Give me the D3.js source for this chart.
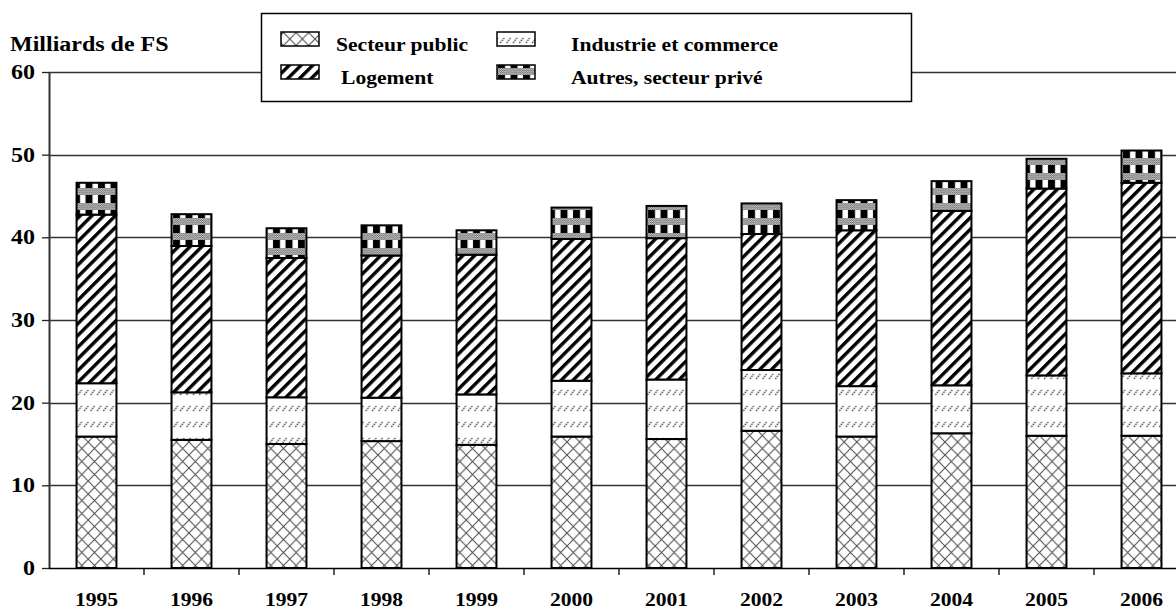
<!DOCTYPE html>
<html>
<head>
<meta charset="utf-8">
<script src="https://cdn.jsdelivr.net/npm/d3@7/dist/d3.min.js"></script>
<style>
  html, body { margin: 0; padding: 0; background: #fff; }
  svg { display: block; }
  text { font-family: "Liberation Serif", "Times New Roman", serif; font-weight: bold; fill: #000; }
</style>
</head>
<body>
<svg id="chart" width="1176" height="610"></svg>
<script>
// Investissements dans la construction, milliards de francs suisses
const years = ["1995","1996","1997","1998","1999","2000","2001","2002","2003","2004","2005","2006"];
const secteurPublic = [15.9, 15.5, 15.0, 15.35, 14.9, 15.9, 15.6, 16.6, 15.9, 16.3, 16.0, 16.0];
const industrieCommerce = [6.45, 5.75, 5.65, 5.25, 6.1, 6.75, 7.2, 7.35, 6.1, 5.8, 7.3, 7.55];
const logement = [20.4, 17.7, 16.85, 17.2, 16.9, 17.15, 17.1, 16.45, 18.85, 21.1, 22.6, 23.05];
const autresPrive = [3.85, 3.85, 3.6, 3.65, 2.95, 3.8, 3.9, 3.7, 3.65, 3.6, 3.6, 3.9];
const yTicks = [0, 10, 20, 30, 40, 50, 60];
const seriesNames = ["Secteur public", "Industrie et commerce", "Logement", "Autres, secteur privé"];
const unitLabel = "Milliards de FS";

const svg = d3.select("#chart");
const SX = 1.2;   // horizontal text stretch
const FS = 18;    // legend and year labels
const FS_Y = 20;  // value axis labels and unit

const plot = { left: 49, right: 1189, top: 72, bottom: 568 };

const x = d3.scaleBand().domain(years).range([plot.left, plot.right])
  .paddingInner(0.58).paddingOuter(0.29);
const xCat = d3.scaleBand().domain(years).range([plot.left, plot.right]).padding(0);
const y = d3.scaleLinear().domain([0, 60]).range([plot.bottom, plot.top]);

// ---- fill patterns ----
const defs = svg.append("defs");

// Secteur public: diagonal cross-hatch
const pPub = defs.append("pattern").attr("id", "pat-pub")
  .attr("patternUnits", "userSpaceOnUse").attr("width", 12.6).attr("height", 13);
pPub.append("rect").attr("width", 12.6).attr("height", 13).attr("fill", "#fff");
pPub.append("path").attr("d", "M0,0 L12.6,13 M12.6,0 L0,13")
  .attr("stroke", "#555").attr("stroke-width", 1.1).attr("fill", "none");

// Industrie et commerce: rows of short dotted slashes
const pInd = defs.append("pattern").attr("id", "pat-ind")
  .attr("patternUnits", "userSpaceOnUse").attr("width", 6.4).attr("height", 16);
pInd.append("rect").attr("width", 6.4).attr("height", 16).attr("fill", "#fff");
pInd.append("path").attr("d", "M1,11 L5,6")
  .attr("stroke", "#555").attr("stroke-width", 1.4).attr("stroke-dasharray", "1.6,0.9").attr("fill", "none");

// Logement: bold diagonal stripes
const pLog = defs.append("pattern").attr("id", "pat-log")
  .attr("patternUnits", "userSpaceOnUse").attr("width", 8.3).attr("height", 8.3)
  .attr("patternTransform", "rotate(45)");
pLog.append("rect").attr("width", 8.3).attr("height", 8.3).attr("fill", "#fff");
pLog.append("rect").attr("width", 3.4).attr("height", 8.3).attr("fill", "#000");

// Autres, secteur privé: black/white blocks with grey dotted bands
const pAut = defs.append("pattern").attr("id", "pat-aut")
  .attr("patternUnits", "userSpaceOnUse").attr("width", 12.5).attr("height", 15);
pAut.append("rect").attr("width", 12.5).attr("height", 15).attr("fill", "#000");
pAut.append("rect").attr("x", 5).attr("width", 5.5).attr("height", 8).attr("fill", "#fff");
const pDot = defs.append("pattern").attr("id", "pat-dot")
  .attr("patternUnits", "userSpaceOnUse").attr("width", 2).attr("height", 2);
pDot.append("rect").attr("width", 2).attr("height", 2).attr("fill", "#cfcfcf");
pDot.append("rect").attr("width", 1).attr("height", 1).attr("fill", "#6a6a6a");
pDot.append("rect").attr("x", 1).attr("y", 1).attr("width", 1).attr("height", 1).attr("fill", "#6a6a6a");
pAut.append("rect").attr("y", 8).attr("width", 12.5).attr("height", 7).attr("fill", "url(#pat-dot)");

const fills = ["url(#pat-pub)", "url(#pat-ind)", "url(#pat-log)", "url(#pat-aut)"];

// ---- gridlines ----
svg.append("g").selectAll("line").data(yTicks.filter(d => d > 0)).join("line")
  .attr("x1", plot.left).attr("x2", 1176)
  .attr("y1", d => Math.round(y(d)) + 0.5).attr("y2", d => Math.round(y(d)) + 0.5)
  .attr("stroke", "#333").attr("stroke-width", 1.3);

// ---- stacked bars ----
const table = years.map((yr, i) => ({
  year: yr,
  "Secteur public": secteurPublic[i],
  "Industrie et commerce": industrieCommerce[i],
  "Logement": logement[i],
  "Autres, secteur privé": autresPrive[i]
}));
const stacked = d3.stack().keys(seriesNames)(table);

svg.append("g").selectAll("g").data(stacked).join("g")
  .attr("fill", (d, i) => fills[i])
  .selectAll("rect").data(d => d).join("rect")
  .attr("x", d => x(d.data.year))
  .attr("width", x.bandwidth())
  .attr("y", d => y(d[1]))
  .attr("height", d => y(d[0]) - y(d[1]))
  .attr("stroke", "#000").attr("stroke-width", 2);

// ---- axes ----
const yAxis = svg.append("g").attr("transform", `translate(${plot.left},0)`)
  .call(d3.axisLeft(y).tickValues(yTicks).tickSize(7).tickSizeOuter(0).tickPadding(7));
yAxis.select(".domain").attr("stroke", "#333").attr("stroke-width", 2);
yAxis.selectAll(".tick line").attr("stroke", "#222").attr("stroke-width", 1.3);
yAxis.selectAll(".tick text")
  .style("font-size", FS_Y + "px").style("font-weight", "bold")
  .style("font-family", '"Liberation Serif", serif').attr("fill", "#000")
  .attr("transform", function () {
    const t = d3.select(this);
    return `translate(${t.attr("x")},0) scale(${SX},1) translate(${-t.attr("x")},0)`;
  });

const xAxis = svg.append("g").attr("transform", `translate(0,${plot.bottom})`);
xAxis.append("line").attr("x1", plot.left).attr("x2", 1176).attr("y1", 0.5).attr("y2", 0.5)
  .attr("stroke", "#000").attr("stroke-width", 1.5);
xAxis.selectAll("line.tk").data(years.slice(1)).join("line").attr("class", "tk")
  .attr("x1", d => xCat(d)).attr("x2", d => xCat(d)).attr("y1", 0).attr("y2", 7)
  .attr("stroke", "#000").attr("stroke-width", 1.3);
xAxis.selectAll("text").data(years).join("text")
  .attr("transform", d => `translate(${x(d) + x.bandwidth() / 2},38) scale(${SX},1)`)
  .attr("text-anchor", "middle").style("font-size", FS + "px")
  .text(d => d);

// ---- unit label ----
svg.append("text").attr("transform", `translate(10,51) scale(${SX},1)`)
  .style("font-size", FS_Y + "px").text(unitLabel);

// ---- legend ----
const legend = svg.append("g");
legend.append("rect").attr("x", 261.5).attr("y", 13.5).attr("width", 650).attr("height", 88)
  .attr("fill", "#fff").attr("stroke", "#000").attr("stroke-width", 1.5);
const legendItems = [
  { sw: [281, 32], tx: [336, 51] },
  { sw: [497, 32], tx: [571, 51] },
  { sw: [281, 65], tx: [341, 84] },
  { sw: [497, 65], tx: [571, 84] }
];
legendItems.forEach((it, i) => {
  legend.append("rect").attr("x", it.sw[0]).attr("y", it.sw[1]).attr("width", 38).attr("height", 14)
    .attr("fill", fills[i]).attr("stroke", "#000").attr("stroke-width", 1.5);
  legend.append("text").attr("transform", `translate(${it.tx[0]},${it.tx[1]}) scale(${SX},1)`)
    .style("font-size", FS + "px").text(seriesNames[i]);
});
</script>
</body>
</html>
